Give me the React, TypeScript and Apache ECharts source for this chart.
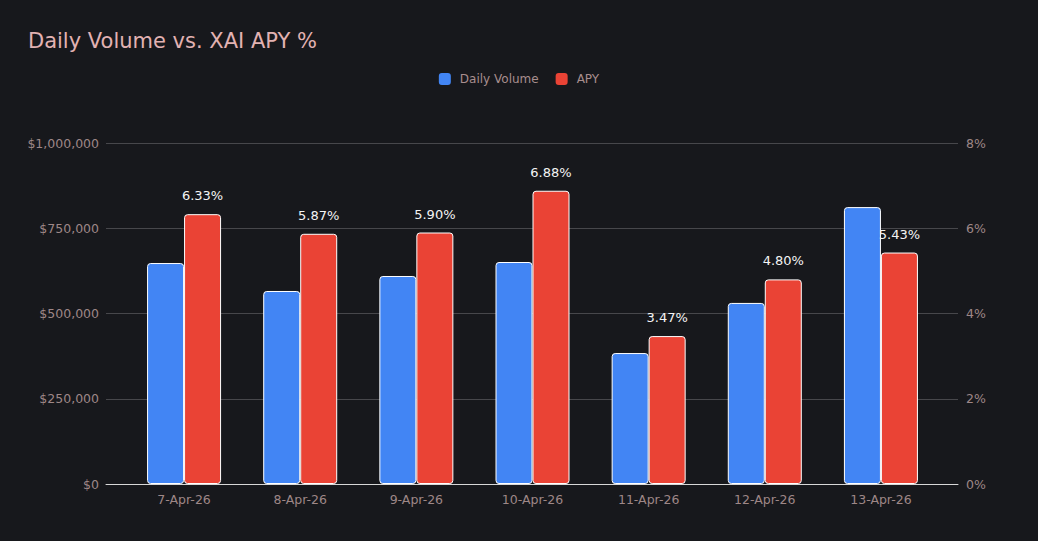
import React, { useEffect, useRef } from "react";
import * as echarts from "echarts";

const categories = ["7-Apr-26", "8-Apr-26", "9-Apr-26", "10-Apr-26", "11-Apr-26", "12-Apr-26", "13-Apr-26"];
const dailyVolume = [648000, 566000, 610000, 651000, 384000, 531000, 812000];
const apy = [6.33, 5.87, 5.9, 6.88, 3.47, 4.8, 5.43];
const volumeTicks = { min: 0, max: 1000000, interval: 250000 };
const apyTicks = { min: 0, max: 8, interval: 2 };

const FONT = "DejaVu Sans";
const AXIS_LABEL = "#9e8787";

export default function App() {
  const ref = useRef<HTMLDivElement>(null);
  useEffect(() => {
    if (!ref.current) return;
    const chart = echarts.init(ref.current, undefined, { renderer: "svg" });
    chart.setOption({
      animation: false,
      backgroundColor: "#17181c",
      textStyle: { fontFamily: FONT },
      title: {
        text: "Daily Volume vs. XAI APY %",
        left: 23,
        top: 25,
        textStyle: { color: "#e2b2b2", fontSize: 21, fontWeight: "normal", fontFamily: FONT },
      },
      legend: {
        top: 68,
        left: "center",
        itemWidth: 12,
        itemHeight: 12,
        itemGap: 17,
        icon: "roundRect",
        itemStyle: { borderWidth: 0 },
        textStyle: { color: "#a88e8e", fontSize: 12, fontFamily: FONT, padding: [0, 0, 0, 4] },
        data: ["Daily Volume", "APY"],
      },
      grid: [
        { left: 106, right: 80, top: 143, bottom: 57 },
        { left: 126, right: 99, top: 143, bottom: 57 },
      ],
      xAxis: [
        {
          type: "category",
          gridIndex: 0,
          data: categories,
          axisLine: { show: true, lineStyle: { color: "#d8d8d8", width: 1 } },
          axisTick: { show: false },
          axisLabel: { show: false },
          splitLine: { show: false },
        },
        {
          type: "category",
          gridIndex: 1,
          data: categories,
          axisLine: { show: false },
          axisTick: { show: false },
          axisLabel: { color: AXIS_LABEL, fontSize: 12.5, margin: 9, fontFamily: FONT },
        },
      ],
      yAxis: [
        {
          type: "value",
          gridIndex: 0,
          position: "left",
          ...volumeTicks,
          axisLine: { show: false },
          axisTick: { show: false },
          axisLabel: {
            color: AXIS_LABEL,
            fontSize: 12.5,
            margin: 7,
            fontFamily: FONT,
            formatter: (v: number) => "$" + v.toLocaleString("en-US"),
          },
          splitLine: { show: true, lineStyle: { color: "#47474b", width: 1 } },
        },
        {
          type: "value",
          gridIndex: 0,
          position: "right",
          ...apyTicks,
          axisLine: { show: false },
          axisTick: { show: false },
          axisLabel: { color: AXIS_LABEL, fontSize: 12.5, margin: 8, fontFamily: FONT, formatter: "{value}%" },
          splitLine: { show: false },
        },
        { type: "value", gridIndex: 1, ...volumeTicks, show: false, splitLine: { show: false } },
        { type: "value", gridIndex: 1, position: "right", ...apyTicks, show: false, splitLine: { show: false } },
      ],
      series: [
        {
          name: "Daily Volume",
          type: "bar",
          xAxisIndex: 1,
          yAxisIndex: 2,
          data: dailyVolume,
          barWidth: 37,
          barGap: "0%",
          itemStyle: { color: "#4285f4", borderColor: "#ffffff", borderWidth: 1, borderRadius: 3 },
        },
        {
          name: "APY",
          type: "bar",
          xAxisIndex: 1,
          yAxisIndex: 3,
          data: apy,
          barWidth: 37,
          barGap: "0%",
          itemStyle: { color: "#ea4335", borderColor: "#ffffff", borderWidth: 1, borderRadius: 3 },
          label: {
            show: true,
            position: "top",
            distance: 12,
            color: "#f4f4f4",
            fontSize: 13,
            fontFamily: FONT,
            formatter: (p: any) => Number(p.value).toFixed(2) + "%",
          },
        },
      ],
    });
    return () => chart.dispose();
  }, []);
  return (
    <div
      ref={ref}
      style={{ position: "fixed", left: 0, top: 0, width: 1038, height: 541 }}
    />
  );
}
